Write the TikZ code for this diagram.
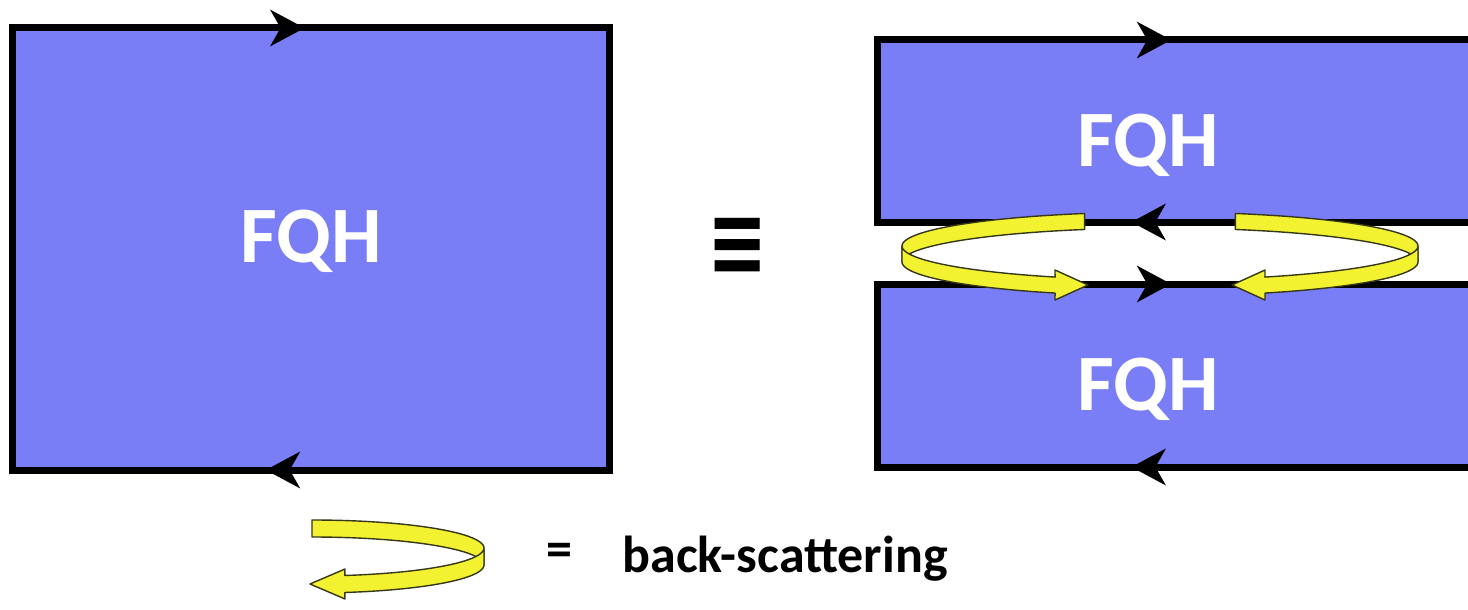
\documentclass[tikz,border=0pt]{standalone}
\usepackage{fontspec}
\setmainfont{Carlito}
\newfontfamily\symfont{DejaVu Sans}
\usetikzlibrary{arrows.meta,decorations.markings}
\definecolor{fqh}{RGB}{122,126,246}
\definecolor{ribbon}{RGB}{242,242,48}
\definecolor{ribbonline}{RGB}{55,55,25}
\begin{document}
\begin{tikzpicture}[x=0.5pt,y=-0.5pt,
  edge/.style={line width=3.5pt, draw=black},
  slab/.style={fill=fqh},
  tipmark/.style={postaction={decorate,decoration={markings,mark=at position #1 with {\arrow{Stealth[length=17pt,width=18pt,inset=5pt]}}}}},
  band/.style={fill=ribbon, draw=ribbonline, line width=0.7pt, line join=round},
  fqhtext/.style={text=white, font=\bfseries\fontsize{40}{40}\selectfont},
  legtext/.style={font=\bfseries\fontsize{26}{26}\selectfont},
]
\fill[white] (0,0) rectangle (1468,610);
\clip (0,0) rectangle (1468,610);
% left slab
\fill[slab] (12,28) rectangle (609,470);
\draw[edge] (12,28) rectangle (609,470);
\draw[edge, tipmark=0.49] (12,28) -- (609,28);
\draw[edge, tipmark=0.575] (609,470) -- (12,470);
% right slabs
\fill[slab] (877,40) rectangle (1490,222);
\draw[edge] (1490,40) -- (877,40) -- (877,222) -- (1490,222);
\draw[edge, tipmark=0.48] (877,40) -- (1490,40);
\draw[edge, tipmark=0.585] (1490,222) -- (877,222);
\fill[slab] (877,284) rectangle (1490,467);
\draw[edge] (1490,284) -- (877,284) -- (877,467) -- (1490,467);
\draw[edge, tipmark=0.48] (877,284) -- (1490,284);
\draw[edge, tipmark=0.585] (1490,467) -- (877,467);
% texts
\node[fqhtext, anchor=base] (fqhL) at (311,262) {FQH};
\node[fqhtext, anchor=base] (fqhT) at (1148,167) {FQH};
\node[fqhtext, anchor=base] (fqhB) at (1148,410) {FQH};
\node[font=\symfont\bfseries\fontsize{36}{36}\selectfont] (equiv) at (738,247) {\scalebox{1}[1.35]{≡}};
% left loop
\draw[band] plot[domain=107:180, samples=30] ({1160+258*cos(\x)}, {246-34*sin(\x)})
  -- plot[domain=180:107, samples=30] ({1160+258*cos(\x)}, {262-34*sin(\x)}) -- cycle;
\draw[band] plot[domain=180:246, samples=30] ({1160+258*cos(\x)}, {246-34*sin(\x)})
  -- (1055,270) -- (1088,285) -- (1055,300)
  -- plot[domain=246:180, samples=30] ({1160+258*cos(\x)}, {262-34*sin(\x)}) -- cycle;
% right loop
\draw[band] plot[domain=73:0, samples=30] ({1160+258*cos(\x)}, {246-34*sin(\x)})
  -- plot[domain=0:73, samples=30] ({1160+258*cos(\x)}, {262-34*sin(\x)}) -- cycle;
\draw[band] plot[domain=0:-66, samples=30] ({1160+258*cos(\x)}, {246-34*sin(\x)})
  -- (1265,270) -- (1232,285) -- (1265,300)
  -- plot[domain=-66:0, samples=30] ({1160+258*cos(\x)}, {262-34*sin(\x)}) -- cycle;
% legend
\draw[band] plot[domain=90:0, samples=30] ({312+172*cos(\x)}, {548-28*sin(\x)})
  -- plot[domain=0:90, samples=30] ({312+172*cos(\x)}, {565-28*sin(\x)}) -- cycle;
\draw[band] plot[domain=0:-79, samples=30] ({312+172*cos(\x)}, {548-28*sin(\x)})
  -- (345,569) -- (310,584) -- (345,599)
  -- plot[domain=-79:0, samples=30] ({312+172*cos(\x)}, {565-28*sin(\x)}) -- cycle;
\node[legtext] (eq) at (559,555) {=};
\node[legtext, anchor=base west, inner sep=0pt] (bs) at (622,572) {back-scattering};
\end{tikzpicture}
\end{document}
